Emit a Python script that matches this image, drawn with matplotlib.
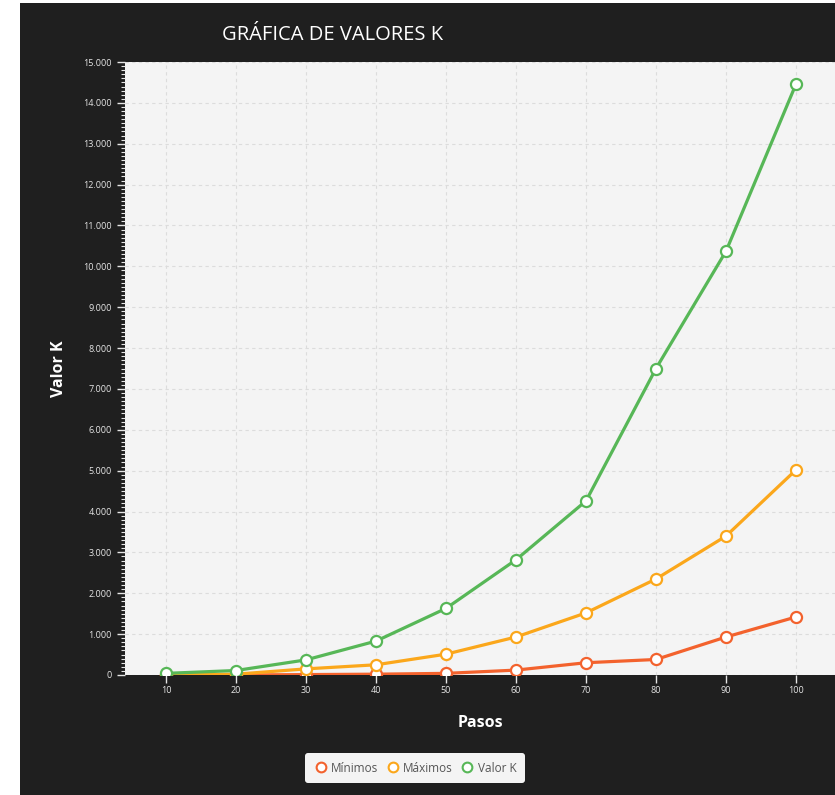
import matplotlib
matplotlib.use("Agg")
import matplotlib.pyplot as plt
from matplotlib.patches import Rectangle
from matplotlib.ticker import FuncFormatter, MultipleLocator
from matplotlib.lines import Line2D

plt.rcParams["font.family"] = ["Open Sans", "DejaVu Sans"]

# Pasos (categorias del eje x)
pasos = ["10", "20", "30", "40", "50", "60", "70", "80", "90", "100"]

# Series de valores K
minimos = [0, 0, 10, 20, 40, 120, 300, 380, 930, 1420]
maximos = [0, 20, 150, 250, 510, 930, 1520, 2350, 3400, 5020]
valor_k = [40, 110, 370, 830, 1630, 2820, 4260, 7500, 10370, 14460]

series = [
    ("Mínimos", minimos, "#f3622d"),
    ("Máximos", maximos, "#fba71b"),
    ("Valor K", valor_k, "#57b757"),
]

fondo = "#1f1f1f"
texto = "#e6e6e6"

fig = plt.figure(figsize=(8.35, 7.95), dpi=100)
fig.patch.set_facecolor("white")
# panel oscuro detras del grafico
fig.patches.append(Rectangle((20 / 835, 0), 1, 1 - 3 / 795, transform=fig.transFigure,
                             facecolor=fondo, edgecolor="none", zorder=-5))

ax = fig.add_axes([125 / 835, 1 - 675 / 795, 1 - 125 / 835, (675 - 62) / 795])
ax.set_zorder(2)
ax.set_facecolor("#f4f4f4")

x = list(range(len(pasos)))
for nombre, vals, color in series:
    ax.plot(x, vals, color=color, lw=2.3, marker="o", ms=8, mfc="white",
            mec=color, mew=1.6, label=nombre, solid_capstyle="round", zorder=3)

ax.set_xlim(-0.586, 9.557)
ax.set_ylim(0, 15000)
ax.set_xticks(x)
ax.set_xticklabels(pasos)
ax.yaxis.set_major_locator(MultipleLocator(1000))
ax.yaxis.set_minor_locator(MultipleLocator(100))
ax.yaxis.set_major_formatter(FuncFormatter(lambda v, p: f"{int(v):,}".replace(",", ".")))

ax.grid(True, which="major", color="#dcdcdc", lw=0.8, ls=(0, (3, 3)))
for s in ax.spines.values():
    s.set_visible(False)

ax.tick_params(axis="both", which="major", colors=texto, labelsize=6.5, length=6, width=1)
ax.tick_params(axis="y", which="minor", colors=texto, length=3, width=0.8)
ax.tick_params(axis="x", pad=2)

ax.set_xlabel("Pasos", color="white", fontsize=11.5, fontweight="bold", labelpad=14)
ax.set_ylabel("Valor K", color="white", fontsize=11.5, fontweight="bold", labelpad=12)

fig.text(222 / 835, 1 - 35 / 795, "GRÁFICA DE VALORES K", color="white",
         fontsize=14.5, ha="left", va="center")

handles = [Line2D([], [], ls="none", marker="o", ms=7, mfc="white", mec=c, mew=1.5)
           for _, _, c in series]
leg = fig.legend(handles, [n for n, _, _ in series], loc="center",
                 bbox_to_anchor=(415 / 835, 1 - 768 / 795), ncol=3, frameon=True,
                 fontsize=8.5, handletextpad=0.3, columnspacing=0.6,
                 borderpad=0.7, handlelength=1.2, fancybox=True)
leg.get_frame().set_facecolor("#f4f4f4")
leg.get_frame().set_edgecolor("none")
leg.get_frame().set_alpha(1)
for t in leg.get_texts():
    t.set_color("#555555")

fig.savefig("out.png", dpi=100, facecolor=fig.get_facecolor())
